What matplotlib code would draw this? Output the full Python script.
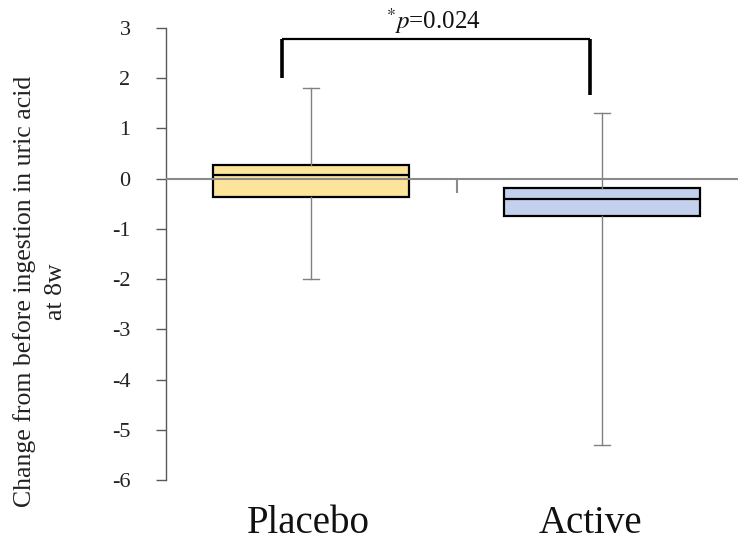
import matplotlib
matplotlib.use("Agg")
import matplotlib.pyplot as plt

categories = ["Placebo", "Active"]
whisker_low = [-2.0, -5.3]
q1 = [-0.37, -0.74]
median = [0.08, -0.41]
q3 = [0.28, -0.19]
whisker_high = [1.8, 1.3]
yticks = [3, 2, 1, 0, -1, -2, -3, -4, -5, -6]
ylabel = "Change from before ingestion in uric acid\nat 8w"
p_text = "=0.024"
bracket_left_bottom = 2.0
bracket_right_bottom = 1.66
bracket_top = 2.78

face_colors = ["#FCE49A", "#C3D1EE"]
serif = ["Liberation Serif", "DejaVu Serif"]
plt.rcParams["font.family"] = serif
plt.rcParams["mathtext.fontset"] = "stix"

fig = plt.figure(figsize=(7.38, 5.42), dpi=100)
ax = fig.add_axes([0.2243, 0.1144, 0.7886, 0.834])

stats = []
for i, c in enumerate(categories):
    stats.append(dict(label=c, whislo=whisker_low[i], q1=q1[i], med=median[i],
                      q3=q3[i], whishi=whisker_high[i], fliers=[]))
pos = [1, 2]
bp = ax.bxp(stats, positions=pos, widths=0.674, patch_artist=True, showfliers=False,
            boxprops=dict(edgecolor="black", linewidth=1.6),
            medianprops=dict(color="black", linewidth=1.6),
            whiskerprops=dict(color="#808080", linewidth=1.0),
            capprops=dict(color="#808080", linewidth=1.0),
            capwidths=0.055, manage_ticks=False)
for patch, col in zip(bp["boxes"], face_colors):
    patch.set_facecolor(col)
    patch.set_zorder(2)
for m in bp["medians"]:
    m.set_zorder(3.5)

ax.axhline(0, color="#8a8a8a", linewidth=1.5, zorder=3)
ax.plot([1.5, 1.5], [0, -0.26], color="#8a8a8a", linewidth=1.5, zorder=3)

ax.set_xlim(0.5, 2.5)
ax.set_ylim(-6, 3)
ax.set_yticks(yticks)
ax.set_yticklabels([str(t) for t in yticks])
ax.set_xticks([])
for s in ["top", "right", "bottom"]:
    ax.spines[s].set_visible(False)
ax.spines["left"].set_color("#595959")
ax.spines["left"].set_linewidth(1.0)
ax.tick_params(axis="y", direction="out", length=7.2, width=1.0, color="#595959",
               labelsize=16, pad=18, labelcolor="#222222")

label_x = [0.99, 1.96]
for x, c in zip(label_x, categories):
    ax.text(x, -7.05, c, ha="center", va="baseline", fontsize=28, color="#111111",
            transform=ax.transData, clip_on=False)

# bracket
x_l = 0.9
x_r = 1.959
ax.plot([x_l, x_r], [bracket_top, bracket_top], color="black", linewidth=1.6, clip_on=False,
        solid_capstyle="butt")
ax.plot([x_l, x_l], [bracket_top, bracket_left_bottom], color="black", linewidth=2.6,
        clip_on=False, solid_capstyle="butt")
ax.plot([x_r, x_r], [bracket_top, bracket_right_bottom], color="black", linewidth=2.6,
        clip_on=False, solid_capstyle="butt")
ax.text(1.42, 2.84, r"$^{*}\mathit{p}$" + p_text, ha="center", va="bottom", fontsize=18,
        color="#111111", clip_on=False)

fig.text(0.054, 0.462, ylabel, rotation=90, ha="center", va="center", fontsize=18.5,
         color="#222222", multialignment="center", linespacing=1.55)

fig.savefig("out.png", dpi=100)
